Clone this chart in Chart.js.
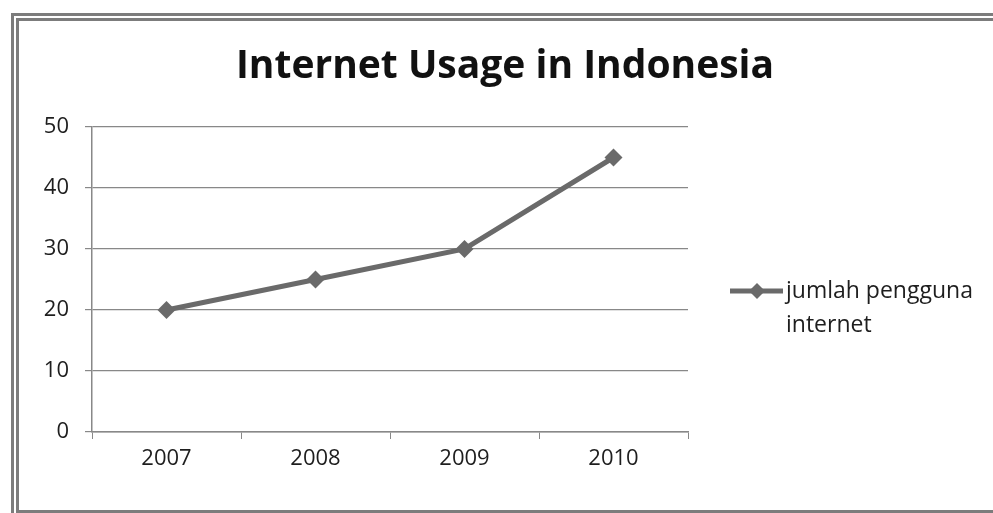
<!DOCTYPE html>
<html>
<head>
<meta charset="utf-8">
<script src="https://cdn.jsdelivr.net/npm/chart.js@4.4.1/dist/chart.umd.min.js"></script>
<style>
  html, body { margin: 0; padding: 0; background: #fff; }
  #wrap { position: relative; width: 993px; height: 513px; overflow: hidden; }
  #frame { position: absolute; left: 11px; top: 13px; width: 1000px; height: 489px;
           border: 8px double #7c7c7c; pointer-events: none; }
</style>
</head>
<body>
<div id="wrap">
  <canvas id="internetChart"></canvas>
  <div id="frame"></div>
</div>
<script>
let years = ['2007', '2008', '2009', '2010'];
let pengguna = [20, 25, 30, 45];
let seriesName = ['jumlah pengguna', 'internet'];
let chartTitle = 'Internet Usage in Indonesia';

let lineGrey = '#6a6a6a';
let textCol = '#1e1e1e';

// judul + legenda digambar sendiri
let customText = {
  id: 'customText',
  afterDraw(chart) {
    let ctx = chart.ctx;
    let area = chart.chartArea;
    ctx.save();
    ctx.fillStyle = '#111';
    ctx.font = 'bold 39px "Open Sans", sans-serif';
    ctx.textAlign = 'center';
    ctx.textBaseline = 'middle';
    ctx.fillText(chartTitle, 505, 67);

    let lx = area.right + 42, ly = 291;
    ctx.strokeStyle = lineGrey;
    ctx.lineWidth = 5;
    ctx.beginPath();
    ctx.moveTo(lx, ly);
    ctx.lineTo(lx + 53, ly);
    ctx.stroke();
    ctx.fillStyle = lineGrey;
    ctx.beginPath();
    ctx.moveTo(lx + 27, ly - 8);
    ctx.lineTo(lx + 35, ly);
    ctx.lineTo(lx + 27, ly + 8);
    ctx.lineTo(lx + 19, ly);
    ctx.closePath();
    ctx.fill();

    ctx.fillStyle = textCol;
    ctx.font = '23px "Open Sans", sans-serif';
    ctx.textAlign = 'left';
    seriesName.forEach((t, i) => ctx.fillText(t, lx + 56, ly + i * 34));
    ctx.restore();
  }
};

let internetChart = new Chart(document.getElementById('internetChart').getContext('2d'), {
  type: 'line',
  data: {
    labels: years,
    datasets: [{
      label: seriesName.join(' '),
      data: pengguna,
      borderColor: lineGrey,
      backgroundColor: lineGrey,
      borderWidth: 5,
      pointStyle: 'rectRot',
      pointRadius: 9,
      pointHoverRadius: 9,
      pointBorderWidth: 0,
      tension: 0
    }]
  },
  options: {
    responsive: true,
    maintainAspectRatio: false,
    animation: false,
    layout: { padding: { left: 12, right: 305, top: 127, bottom: 21 } },
    plugins: { legend: { display: false }, title: { display: false }, tooltip: { enabled: false } },
    scales: {
      x: {
        offset: true,
        grid: { offset: true, drawOnChartArea: false, color: '#888', tickLength: 7 },
        border: { color: '#888', width: 1.5 },
        ticks: { color: textCol, font: { family: '"Open Sans", sans-serif', size: 22 }, padding: 7 },
        afterFit(s) { s.height = 60; }
      },
      y: {
        min: 0,
        max: 50,
        grid: { color: '#888', lineWidth: 1.2, tickLength: 7 },
        border: { color: '#888', width: 1.5 },
        ticks: { stepSize: 10, color: textCol, font: { family: '"Open Sans", sans-serif', size: 22 }, padding: 16 },
        afterFit(s) { s.width = 80; }
      }
    }
  },
  plugins: [customText]
});
</script>
</body>
</html>
